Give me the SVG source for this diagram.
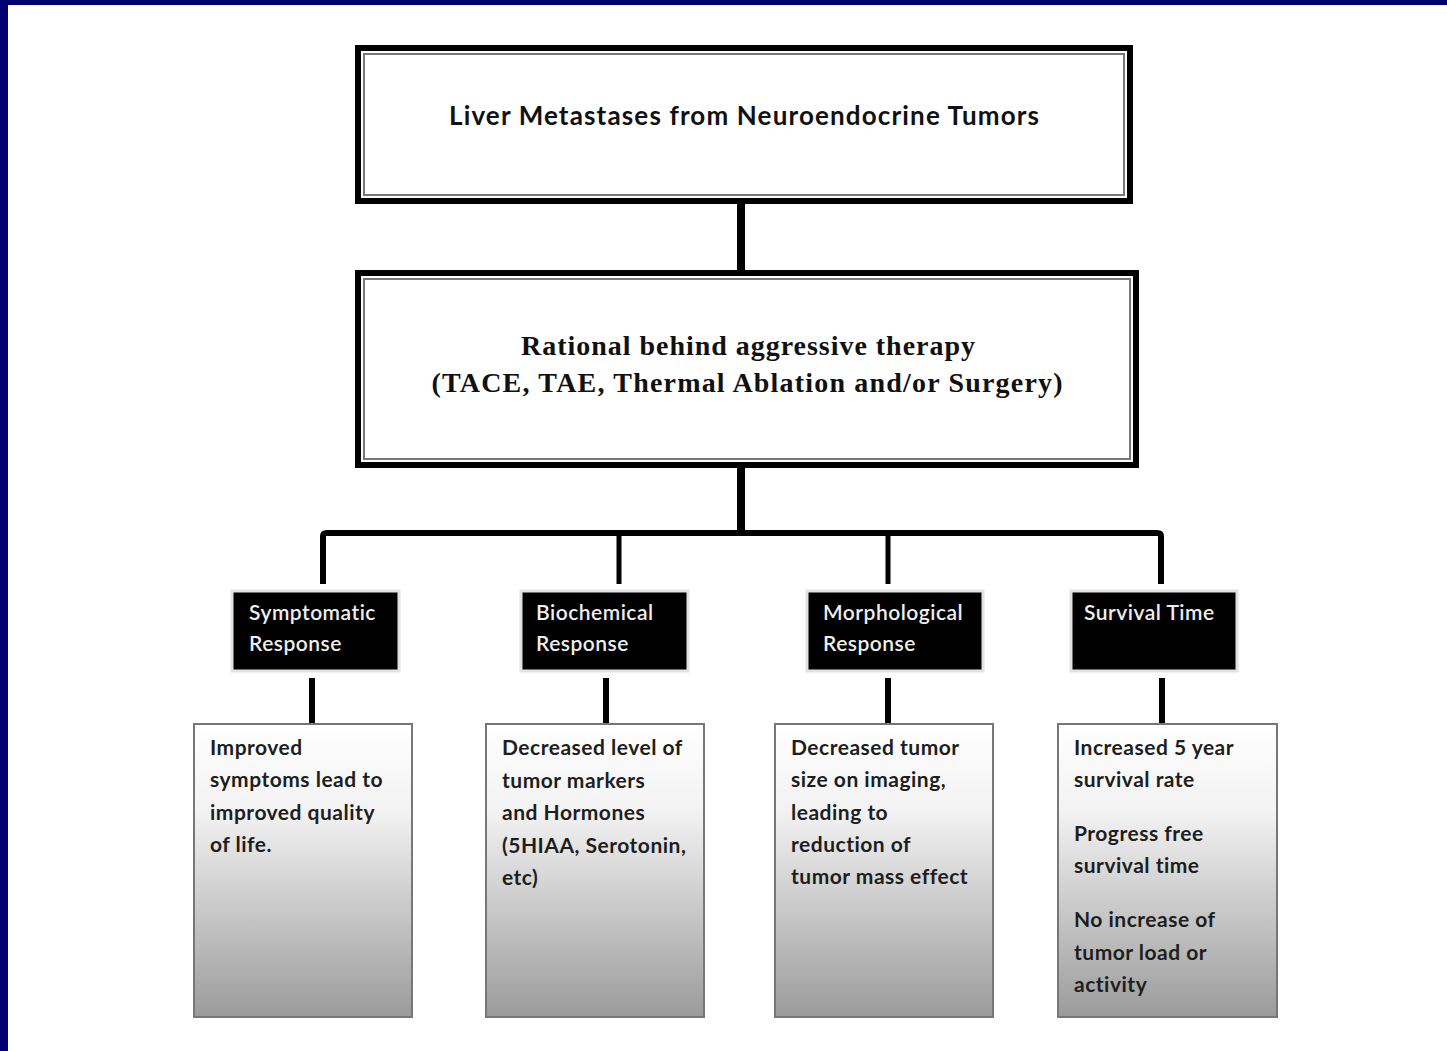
<svg xmlns="http://www.w3.org/2000/svg" width="1447" height="1051" viewBox="0 0 1447 1051">
<defs>
<linearGradient id="g" x1="0" y1="0" x2="0" y2="1">
<stop offset="0" stop-color="#ffffff"/>
<stop offset="0.3" stop-color="#f2f2f2"/>
<stop offset="1" stop-color="#9b9b9b"/>
</linearGradient>
<style>
.outer{fill:#fff;stroke:#000;stroke-width:6}
.inner{fill:none;stroke:#777;stroke-width:2}
.hd{fill:#000;stroke:#e2e2e2;stroke-width:3}
.ht{font-family:Lato,"Open Sans",sans-serif;font-size:21px;letter-spacing:0.5px;fill:#eee;font-weight:600}
.bx{fill:url(#g);stroke:#777;stroke-width:2}
.bt{font-family:Lato,"Open Sans",sans-serif;font-size:21px;letter-spacing:0.5px;fill:#1e1e1e;font-weight:700}
.ln{fill:none;stroke:#000;stroke-linejoin:round;stroke-linecap:butt}
</style>
</defs>
<rect width="1447" height="1051" fill="#fff"/>
<rect x="0" y="0" width="1447" height="5" fill="#000070"/>
<rect x="0" y="0" width="8" height="1051" fill="#000070"/>

<g id="connectors">
<line class="ln" x1="741" y1="204" x2="741" y2="272" stroke-width="8"/>
<line class="ln" x1="741" y1="468" x2="741" y2="532" stroke-width="8"/>
<path class="ln" d="M323 584 V536 Q323 533 327 533 H1157 Q1161 533 1161 536 V584" stroke-width="6"/>
<line class="ln" x1="619" y1="533" x2="619" y2="584" stroke-width="5"/>
<line class="ln" x1="888" y1="533" x2="888" y2="584" stroke-width="5"/>
<line class="ln" x1="312" y1="678" x2="312" y2="724" stroke-width="6"/>
<line class="ln" x1="606" y1="678" x2="606" y2="724" stroke-width="6"/>
<line class="ln" x1="888" y1="678" x2="888" y2="724" stroke-width="6"/>
<line class="ln" x1="1162" y1="678" x2="1162" y2="724" stroke-width="6"/>
</g>

<g id="top">
<rect class="outer" x="358" y="48" width="772" height="153"/>
<rect class="inner" x="364" y="54" width="760" height="141"/>
<text x="744" y="125" text-anchor="middle" font-family="Lato,'Open Sans',sans-serif" font-weight="700" font-size="26" fill="#111" textLength="590">Liver Metastases from Neuroendocrine Tumors</text>
</g>

<g id="rational">
<rect class="outer" x="358" y="273" width="778" height="192"/>
<rect class="inner" x="364" y="279" width="766" height="180"/>
<text x="748" y="355" text-anchor="middle" font-family="'Liberation Serif',serif" font-weight="700" font-size="28" fill="#111" textLength="454">Rational behind aggressive therapy</text>
<text x="747" y="392" text-anchor="middle" font-family="'Liberation Serif',serif" font-weight="700" font-size="28" fill="#111" textLength="631">(TACE, TAE, Thermal Ablation and/or Surgery)</text>
</g>

<g id="h-symptomatic">
<rect class="hd" x="232" y="591" width="167" height="80"/>
<text class="ht" x="249" y="620">Symptomatic</text>
<text class="ht" x="249" y="651">Response</text>
</g>
<g id="h-biochemical">
<rect class="hd" x="521" y="591" width="167" height="80"/>
<text class="ht" x="536" y="620">Biochemical</text>
<text class="ht" x="536" y="651">Response</text>
</g>
<g id="h-morphological">
<rect class="hd" x="807" y="591" width="176" height="80"/>
<text class="ht" x="823" y="620">Morphological</text>
<text class="ht" x="823" y="651">Response</text>
</g>
<g id="h-survival">
<rect class="hd" x="1071" y="591" width="166" height="80"/>
<text class="ht" x="1084" y="620">Survival Time</text>
</g>

<g id="b-symptomatic">
<rect class="bx" x="194" y="724" width="218" height="293"/>
<text class="bt" x="210" y="755">Improved</text>
<text class="bt" x="210" y="787">symptoms lead to</text>
<text class="bt" x="210" y="820">improved quality</text>
<text class="bt" x="210" y="852">of life.</text>
</g>
<g id="b-biochemical">
<rect class="bx" x="486" y="724" width="218" height="293"/>
<text class="bt" x="502" y="755">Decreased level of</text>
<text class="bt" x="502" y="788">tumor markers</text>
<text class="bt" x="502" y="820">and Hormones</text>
<text class="bt" x="502" y="853">(5HIAA, Serotonin,</text>
<text class="bt" x="502" y="885">etc)</text>
</g>
<g id="b-morphological">
<rect class="bx" x="775" y="724" width="218" height="293"/>
<text class="bt" x="791" y="755">Decreased tumor</text>
<text class="bt" x="791" y="787">size on imaging,</text>
<text class="bt" x="791" y="820">leading to</text>
<text class="bt" x="791" y="852">reduction of</text>
<text class="bt" x="791" y="884">tumor mass effect</text>
</g>
<g id="b-survival">
<rect class="bx" x="1058" y="724" width="219" height="293"/>
<text class="bt" x="1074" y="755">Increased 5 year</text>
<text class="bt" x="1074" y="787">survival rate</text>
<text class="bt" x="1074" y="841">Progress free</text>
<text class="bt" x="1074" y="873">survival time</text>
<text class="bt" x="1074" y="927">No increase of</text>
<text class="bt" x="1074" y="960">tumor load or</text>
<text class="bt" x="1074" y="992">activity</text>
</g>
</svg>
